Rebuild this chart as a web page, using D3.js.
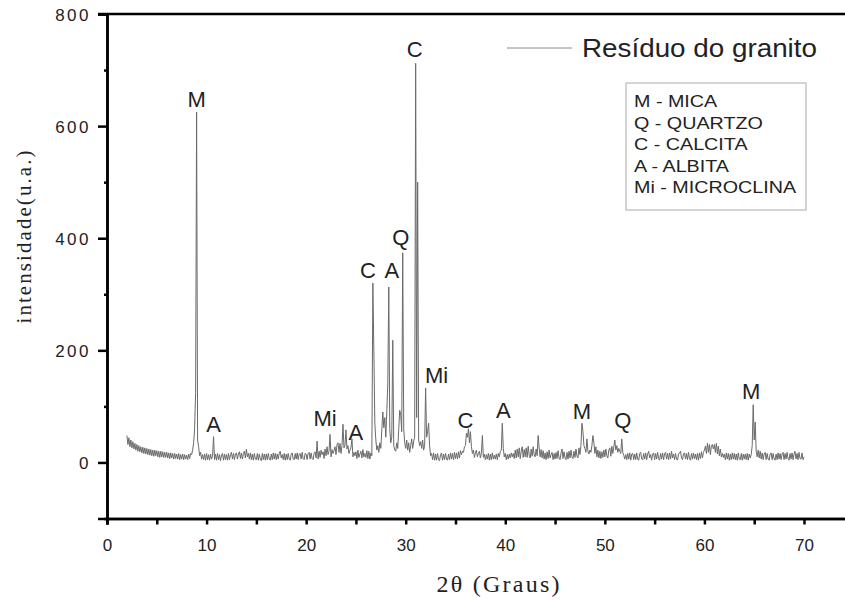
<!DOCTYPE html>
<html><head><meta charset="utf-8">
<script src="https://cdn.jsdelivr.net/npm/d3@7"></script>
<style>body{margin:0;background:#fff}svg{display:block}</style>
</head><body>
<script>
// ---- data ----
const scanStart = 2.0;
const scanStep = 0.1;
const intensity = [
  48,32,44,28,40,26,37,24,34,22,
  32,20,30,19,28,17,27,16,26,15,
  25,14,24,13,23,12,22,11,22,12,
  21,10,20,9,20,10,19,9,18,9,
  18,8,17,7,17,8,16,6,16,7,
  15,6,16,5,14,6,15,5,14,6,
  13,5,15,7,16,14,22,35,60,125,
  625,40,28,12,18,6,14,5,15,4,
  16,5,14,4,15,6,11,46,5,15,
  4,16,5,14,3,13,16,4,15,5,
  14,4,16,5,14,18,6,16,5,15,
  17,6,15,19,7,17,6,16,20,8,
  24,10,16,6,17,5,15,4,16,6,
  5,16,4,15,6,3,16,5,15,4,
  15,5,16,6,4,15,5,17,6,16,
  5,15,6,17,20,8,14,5,16,4,
  15,5,16,6,4,15,17,6,5,16,
  6,17,5,15,16,6,18,7,5,16,
  15,5,16,18,6,17,7,5,16,19,
  8,38,6,20,9,22,14,19,7,24,
  12,28,14,20,50,10,23,16,21,28,
  14,32,35,18,34,16,30,68,26,30,
  58,24,30,16,22,26,42,10,18,12,
  19,7,22,9,15,20,8,23,10,16,
  9,21,7,20,6,17,12,320,200,70,
  40,22,30,18,35,25,58,90,62,80,
  45,90,140,313,60,35,45,218,30,22,
  20,35,25,60,93,85,55,374,60,35,
  25,40,22,35,18,30,42,25,38,45,
  712,80,500,40,30,37,25,40,22,30,
  133,45,55,70,30,12,16,5,17,4,
  15,4,16,5,3,14,17,4,15,5,
  16,6,4,15,5,17,6,16,5,18,
  7,17,6,19,8,21,14,20,18,28,
  30,52,45,60,35,55,28,16,22,9,
  17,22,10,16,20,8,17,48,9,15,
  5,14,6,16,4,15,5,17,6,13,
  6,15,5,16,10,19,22,70,25,10,
  16,5,14,6,15,8,17,10,16,7,
  22,8,24,10,26,7,20,28,9,23,
  10,26,9,29,13,8,24,11,28,14,
  10,24,12,48,26,10,23,8,21,6,
  17,5,19,7,22,8,14,18,5,16,
  6,18,7,21,8,5,17,24,7,19,
  8,5,18,6,20,8,22,10,7,20,
  9,24,11,8,26,14,30,70,55,30,
  25,18,42,20,15,22,18,30,48,35,
  16,28,10,22,8,20,7,19,9,22,
  10,24,12,8,22,26,11,29,16,28,
  40,22,30,18,25,20,16,42,18,13,
  6,14,5,16,6,17,4,15,16,5,
  15,5,17,6,4,16,18,6,5,16,
  6,17,5,15,20,8,14,4,15,17,
  5,16,6,18,7,4,16,6,17,5,
  15,18,6,16,5,17,6,20,8,15,
  5,16,6,4,15,17,20,8,5,15,
  17,6,16,5,18,7,4,16,6,17,
  7,15,5,16,4,17,7,19,8,18,
  22,29,16,34,18,32,14,30,32,24,
  32,18,34,15,29,12,24,10,16,9,
  15,5,17,6,16,4,15,5,17,6,
  16,5,15,4,17,6,5,16,4,15,
  6,15,5,16,4,15,8,14,30,103,
  40,72,20,10,22,8,20,6,17,5,
  15,18,5,16,6,4,15,17,5,16,
  6,4,15,5,17,6,16,5,15,18,
  5,16,6,18,7,4,16,6,17,5,
  15,20,6,16,5,18,7,6,17,5,
  10
];
const peakLabels = ["M","A","Mi","A","C","A","Q","C","Mi","C","A","M","Q","M"];
const peakTheta  = [9.0,10.7,21.9,25.0,26.2,28.6,29.5,30.9,33.1,36.0,39.8,47.7,51.8,64.7];
const peakLevel  = [634,54,65,40,329,329,388,723,142,61,79,78,62,113];
const xTicks = [0,10,20,30,40,50,60,70];
const yTicks = [0,200,400,600,800];
const seriesName = "Resíduo do granito";
const phaseLegend = ["M - MICA","Q - QUARTZO","C - CALCITA","A - ALBITA","Mi - MICROCLINA"];

// ---- chart ----
const W = 845, H = 602;
const svg = d3.select("body").append("svg").attr("width", W).attr("height", H);
const x = d3.scaleLinear().domain([0, 75]).range([107, 107 + 75 * 9.957]);
const y = d3.scaleLinear().domain([-100, 800]).range([518.5, 14]);
const sans = "'Liberation Sans', Arial, sans-serif";
const serif = "'Liberation Serif', 'Times New Roman', serif";

const pts = intensity.map((v, i) => [scanStart + i * scanStep, v]);
svg.append("path").datum(pts)
  .attr("fill", "none").attr("stroke", "#6a6a6a").attr("stroke-width", 1)
  .attr("d", d3.line().x(d => x(d[0])).y(d => y(d[1])));

// axes
const xAxis = d3.axisBottom(x).tickValues(xTicks).tickSize(6).tickFormat(d3.format("d"));
const xMinor = d3.axisBottom(x).tickValues(d3.range(5, 76, 10)).tickSize(6).tickFormat("");
const gx = svg.append("g").attr("transform", `translate(0,${y(-100)})`).call(xAxis);
const gxm = svg.append("g").attr("transform", `translate(0,${y(-100)})`).call(xMinor);
const yAxis = d3.axisLeft(y).tickValues(yTicks).tickSize(9).tickFormat(d3.format("d"));
const yMinor = d3.axisLeft(y).tickValues([100,300,500,700]).tickSize(3).tickFormat("");
const gy = svg.append("g").attr("transform", `translate(${x(0)},0)`).call(yAxis);
const gym = svg.append("g").attr("transform", `translate(${x(0)},0)`).call(yMinor);
[gx, gxm, gy, gym].forEach(g => {
  g.select(".domain").attr("stroke", "#000").attr("stroke-width", 2.5);
  g.selectAll(".tick line").attr("stroke", "#000").attr("stroke-width", 2.5);
});
gx.selectAll(".tick text").attr("font-family", sans).attr("font-size", 17).attr("fill", "#222")
  .attr("y", 20).attr("dy", "0.71em");
gy.selectAll(".tick text").attr("font-family", sans).attr("font-size", 17).attr("fill", "#222")
  .attr("x", -16).attr("dy", "0.36em").attr("letter-spacing", 2.5);
// top border
svg.append("line").attr("x1", 98).attr("x2", W + 10).attr("y1", y(800)).attr("y2", y(800))
  .attr("stroke", "#000").attr("stroke-width", 2.5);

// peak labels
svg.append("g").selectAll("text").data(peakLabels).join("text")
  .attr("x", (d, i) => x(peakTheta[i])).attr("y", (d, i) => y(peakLevel[i]))
  .attr("text-anchor", "middle").attr("font-family", sans).attr("font-size", 22)
  .attr("fill", "#222").text(d => d);

// axis titles
svg.append("text").attr("x", 498).attr("y", 592).attr("text-anchor", "middle")
  .attr("font-family", serif).attr("font-size", 24).attr("fill", "#222")
  .attr("textLength", 123).attr("lengthAdjust", "spacing").text("2θ (Graus)");
svg.append("text").attr("transform", "translate(31,237) rotate(-90)").attr("text-anchor", "middle")
  .attr("font-family", serif).attr("font-size", 21).attr("fill", "#222")
  .attr("textLength", 173).attr("lengthAdjust", "spacing").text("intensidade(u.a.)");

// series legend
svg.append("line").attr("x1", 507).attr("x2", 572).attr("y1", 48).attr("y2", 48)
  .attr("stroke", "#8a8a8a").attr("stroke-width", 1);
svg.append("text").attr("x", 582).attr("y", 57).attr("font-family", sans).attr("font-size", 25)
  .attr("fill", "#222").attr("textLength", 235).attr("lengthAdjust", "spacingAndGlyphs").text(seriesName);

// phase legend box
svg.append("rect").attr("x", 626).attr("y", 83).attr("width", 180).attr("height", 127)
  .attr("fill", "none").attr("stroke", "#aaa").attr("stroke-width", 1);
svg.append("g").selectAll("text").data(phaseLegend).join("text")
  .attr("transform", (d, i) => `translate(634,${107 + i * 21.5}) scale(1.16,1)`)
  .attr("font-family", sans).attr("font-size", 17).attr("fill", "#222").text(d => d);
</script>
</body></html>
